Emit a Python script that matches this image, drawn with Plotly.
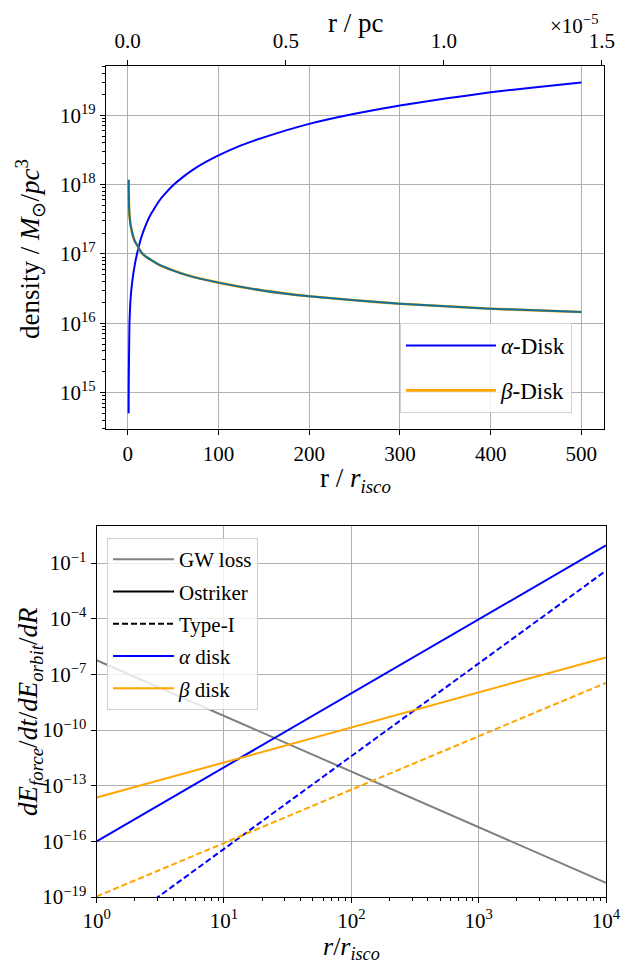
import plotly.graph_objects as go

# ---------------- data: top panel (density vs r / r_isco) ----------------
r_alpha = [1.0, 1.07, 1.2, 1.4, 1.9, 2.8, 4.1, 5.9, 8.0, 11, 15, 20, 25, 30, 35,
           40, 50, 60, 75, 100, 125, 150, 200, 250, 300, 350, 400, 450, 500]
rho_alpha = [5.01e14, 1.0e15, 1.78e15, 3.09e15, 1.0e16, 1.91e16, 3.16e16, 4.90e16,
             7.24e16, 1.10e17, 1.74e17, 2.63e17, 3.63e17, 4.68e17, 5.89e17,
             7.08e17, 9.77e17, 1.26e18, 1.74e18, 2.63e18, 3.67e18, 4.79e18,
             7.50e18, 1.05e19, 1.38e19, 1.74e19, 2.14e19, 2.54e19, 2.96e19]

r_beta = [1.0, 1.1, 1.25, 1.5, 2.0, 3.0, 4.0, 6.0, 8.0, 11, 15, 20, 26, 35, 48,
          66, 100, 150, 200, 250, 300, 400, 500]
rho_beta = [1.17e18, 8.32e17, 6.31e17, 4.57e17, 3.55e17, 2.69e17, 2.29e17,
            1.78e17, 1.51e17, 1.29e17, 1.05e17, 9.12e16, 8.13e16, 6.92e16,
            5.89e16, 4.90e16, 3.85e16, 2.95e16, 2.45e16, 2.14e16, 1.91e16,
            1.62e16, 1.45e16]

pc_per_risco = 2.87e-8          # conversion used for the top (pc) axis
pc_scale = 1e-5                 # offset factor shown as x10^-5

# ---------------- data: bottom panel (power laws, log-log) ----------------
r_ends = [1.0, 1.0e4]
gw_loss = [5.8e-7, 5.8e-19]
alpha_ostriker = [1.0e-16, 9.0e-1]
alpha_type1 = [3.9e-22, 3.9e-2]
beta_ostriker = [2.3e-14, 8.3e-7]
beta_type1 = [1.07e-19, 3.5e-8]

top_ytick_exp = [15, 16, 17, 18, 19]
bot_xtick_exp = [0, 1, 2, 3, 4]
bot_ytick_exp = [-19, -16, -13, -10, -7, -4, -1]
pc_ticks = [0.0, 0.5, 1.0, 1.5]

# ---------------- styling ----------------
OFF = 8                      # page body margin
W, H = 636 - OFF, 964 - OFF
FONT = "Liberation Serif"
BLUE, ORANGE, GRAY, TEAL = "#0000ff", "#ffa500", "#808080", "#10709a"
GRID = "#b0b0b0"

def px_x(p):
    return (p - OFF) / W

def px_y(p):
    return 1 - (p - OFF) / H

fig = go.Figure()

# top panel
fig.add_trace(go.Scatter(x=r_alpha, y=rho_alpha, mode="lines", name="<i>α</i>-Disk",
                         line=dict(color=BLUE, width=2, shape="spline", smoothing=0.4),
                         xaxis="x", yaxis="y", legend="legend", legendgroup="a"))
fig.add_trace(go.Scatter(x=r_beta, y=rho_beta, mode="lines", name="<i>β</i>-Disk",
                         line=dict(color=ORANGE, width=2.6, shape="spline", smoothing=0.4),
                         xaxis="x", yaxis="y", legend="legend", legendgroup="b"))
fig.add_trace(go.Scatter(x=r_beta, y=rho_beta, mode="lines", showlegend=False,
                         line=dict(color=TEAL, width=2, shape="spline", smoothing=0.4),
                         xaxis="x", yaxis="y"))
r_pc = [v * pc_per_risco / pc_scale for v in r_alpha]
fig.add_trace(go.Scatter(x=r_pc, y=rho_alpha, mode="lines", showlegend=False,
                         opacity=0, hoverinfo="skip", xaxis="x3", yaxis="y"))

# bottom panel
fig.add_trace(go.Scatter(x=r_ends, y=gw_loss, mode="lines", name="GW loss",
                         line=dict(color=GRAY, width=2), xaxis="x2", yaxis="y2",
                         legend="legend2", legendgroup="g1"))
fig.add_trace(go.Scatter(x=r_ends, y=alpha_ostriker, mode="lines", showlegend=False,
                         line=dict(color=BLUE, width=2), xaxis="x2", yaxis="y2"))
fig.add_trace(go.Scatter(x=r_ends, y=alpha_type1, mode="lines", showlegend=False,
                         line=dict(color=BLUE, width=2, dash="6px,3px"), xaxis="x2", yaxis="y2"))
fig.add_trace(go.Scatter(x=r_ends, y=beta_ostriker, mode="lines", showlegend=False,
                         line=dict(color=ORANGE, width=2), xaxis="x2", yaxis="y2"))
fig.add_trace(go.Scatter(x=r_ends, y=beta_type1, mode="lines", showlegend=False,
                         line=dict(color=ORANGE, width=2, dash="6px,3px"), xaxis="x2", yaxis="y2"))
legend_dummies = [("Ostriker", "black", "solid"), ("Type-I", "black", "6px,3px"),
                  ("<i>α</i> disk", BLUE, "solid"), ("<i>β</i> disk", ORANGE, "solid")]
for i, (nm, col, ds) in enumerate(legend_dummies):
    fig.add_trace(go.Scatter(x=[None], y=[None], mode="lines", name=nm,
                             line=dict(color=col, width=2, dash=ds), xaxis="x2", yaxis="y2",
                             legend="legend2", legendgroup="g%d" % (i + 2)))

tickfont = dict(family=FONT, size=21, color="black")
common = dict(showline=True, linecolor="black", linewidth=1.2, ticks="outside",
              ticklen=5, tickwidth=1.1, tickcolor="black", tickfont=tickfont,
              gridcolor=GRID, gridwidth=1, zeroline=False)

x_lo, x_hi = -23.95, 524.95
top_dom_y = [px_y(429.3), px_y(66)]
bot_dom_y = [px_y(897), px_y(526)]

minor_top = [m * 10.0 ** e for e in range(14, 20) for m in range(2, 10)]
minor_bot = [m * 10.0 ** e for e in range(0, 4) for m in range(2, 10)]

fig.update_layout(
    width=W, height=H,
    margin=dict(l=0, r=0, t=0, b=0, autoexpand=False),
    paper_bgcolor="white", plot_bgcolor="white",
    font=dict(family=FONT, color="black"),
    xaxis=dict(domain=[px_x(106), px_x(604)], anchor="y", range=[x_lo, x_hi],
               tickvals=[0, 100, 200, 300, 400, 500], showgrid=True, mirror=True,
               automargin=False, **common),
    yaxis=dict(domain=top_dom_y, anchor="x", type="log", range=[14.47, 19.71],
               tickvals=[10.0 ** e for e in top_ytick_exp],
               ticktext=["10<sup>%d</sup>" % e for e in top_ytick_exp],
               minor=dict(tickmode="array", tickvals=minor_top, ticks="outside",
                          ticklen=3, tickwidth=1, tickcolor="black", showgrid=False),
               showgrid=True, mirror=True, automargin=False, **common),
    xaxis3=dict(overlaying="x", side="top", anchor="y",
                range=[x_lo * pc_per_risco / pc_scale, x_hi * pc_per_risco / pc_scale],
                tickvals=pc_ticks, ticktext=["%.1f" % v for v in pc_ticks],
                showgrid=False, automargin=False, ticklabelstandoff=4, **common),
    xaxis2=dict(domain=[px_x(96.6), px_x(606)], anchor="y2", type="log", range=[0, 4],
                tickvals=[10.0 ** e for e in bot_xtick_exp],
                ticktext=["10<sup>%d</sup>" % e for e in bot_xtick_exp],
                minor=dict(tickmode="array", tickvals=minor_bot, ticks="outside",
                           ticklen=3, tickwidth=1, tickcolor="black", showgrid=False),
                showgrid=True, mirror=True, automargin=False, **common),
    yaxis2=dict(domain=bot_dom_y, anchor="x2", type="log", range=[-19, 1],
                tickvals=[10.0 ** e for e in bot_ytick_exp],
                ticktext=["10<sup>\u2212%d</sup>" % (-e) for e in bot_ytick_exp],
                showgrid=True, mirror=True, automargin=False, **common),
    legend=dict(x=px_x(400), y=px_y(323), xanchor="left", yanchor="top",
                bgcolor="rgba(255,255,255,0.8)", bordercolor="#d0d0d0", borderwidth=1,
                font=dict(family=FONT, size=23, color="black"),
                itemwidth=90, tracegroupgap=12, traceorder="grouped"),
    legend2=dict(x=px_x(107), y=px_y(538), xanchor="left", yanchor="top",
                 bgcolor="rgba(255,255,255,0.8)", bordercolor="#d0d0d0", borderwidth=1,
                 font=dict(family=FONT, size=21, color="black"),
                 itemwidth=61, tracegroupgap=2, traceorder="grouped"),
    showlegend=True,
)

ann = dict(xref="paper", yref="paper", showarrow=False, xanchor="center", yanchor="middle")
title_font = dict(family=FONT, size=27, color="black")
fig.add_annotation(text="r / <i>r</i><sub><i>isco</i></sub>", x=px_x(355), y=px_y(480),
                   font=title_font, **ann)
fig.add_annotation(text="r / pc", x=px_x(355), y=px_y(23), font=title_font, **ann)
fig.add_annotation(text="×10<sup>\u22125</sup>", x=px_x(600), y=px_y(24),
                   xref="paper", yref="paper", showarrow=False, xanchor="right",
                   yanchor="middle", font=dict(family=FONT, size=21, color="black"))
fig.add_annotation(text="density / <i>M</i><sub>\u2299</sub>/<i>pc</i><sup>3</sup>",
                   x=px_x(30), y=px_y(249), textangle=-90,
                   font=dict(family=FONT, size=27, color="black"), **ann)
fig.add_annotation(text="<i>r</i>/<i>r</i><sub><i>isco</i></sub>", x=px_x(351), y=px_y(948),
                   font=dict(family=FONT, size=26, color="black"), **ann)
fig.add_annotation(text="<i>dE</i><sub><i>force</i></sub>/<i>dt</i>/<i>dE</i><sub><i>orbit</i></sub>/<i>dR</i>",
                   x=px_x(30), y=px_y(712), textangle=-90,
                   font=dict(family=FONT, size=27, color="black"), **ann)

fig.write_html("out.html")
